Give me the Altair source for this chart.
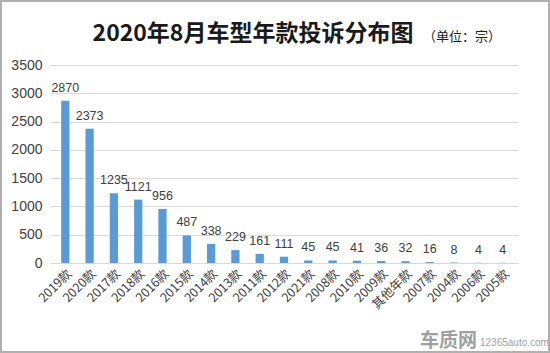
import altair as alt
import pandas as pd

categories = ["2019款", "2020款", "2017款", "2018款", "2016款", "2015款", "2014款", "2013款",
              "2011款", "2012款", "2021款", "2008款", "2010款", "2009款", "其他年款", "2007款",
              "2004款", "2006款", "2005款"]
values = [2870, 2373, 1235, 1121, 956, 487, 338, 229, 161, 111, 45, 45, 41, 36, 32, 16, 8, 4, 4]
y_ticks = [0, 500, 1000, 1500, 2000, 2500, 3000, 3500]

df = pd.DataFrame({"cat": categories, "val": values})
FONT = "Noto Sans CJK SC"

x_enc = alt.X("cat:N", sort=categories, title=None,
              scale=alt.Scale(paddingInner=0.66, paddingOuter=0.46),
              axis=alt.Axis(labelAngle=-45, labelFontSize=12.5, labelColor="#404040",
                            labelFont=FONT, ticks=False, domainColor="#d9d9d9",
                            labelPadding=4, labelAlign="right", labelBaseline="top"))
y_enc = alt.Y("val:Q", title=None,
              scale=alt.Scale(domain=[0, 3500], nice=False),
              axis=alt.Axis(values=y_ticks, format="d", labelOverlap=False, labelFontSize=14,
                            labelColor="#404040", labelFont="Liberation Sans", ticks=False,
                            domain=False, gridColor="#d9d9d9", labelPadding=8))

base = alt.Chart(df)
bars = base.mark_bar(color="#5b9bd5").encode(x=x_enc, y=y_enc)
labels = base.mark_text(dy=-13, fontSize=12.5, font="Liberation Sans", color="#404040").encode(
    x=x_enc, y=y_enc, text="val:Q")

title = alt.Chart(pd.DataFrame({"t": ["2020年8月车型年款投诉分布图"]})).mark_text(
    fontSize=23, fontWeight="bold", font=FONT, color="#1a1a1a", align="center", baseline="middle"
).encode(x=alt.value(203), y=alt.value(-31), text="t:N")
unit = alt.Chart(pd.DataFrame({"t": ["（单位：宗）"]})).mark_text(
    fontSize=13, font=FONT, color="#1a1a1a", align="left", baseline="middle"
).encode(x=alt.value(373), y=alt.value(-28), text="t:N")
wm1 = alt.Chart(pd.DataFrame({"t": ["车质网"]})).mark_text(
    fontSize=19, fontWeight="bold", font=FONT, color="#a0a0a0", align="left", baseline="middle"
).encode(x=alt.value(370), y=alt.value(276), text="t:N")
wm2 = alt.Chart(pd.DataFrame({"t": ["12365auto.com"]})).mark_text(
    fontSize=10, font="Liberation Sans", color="#a0a0a0", align="left", baseline="middle"
).encode(x=alt.value(430), y=alt.value(278), text="t:N")
border = alt.Chart(pd.DataFrame({"a": [0]})).mark_rect(
    fill=None, stroke="#b0b0b0", strokeWidth=2
).encode(x=alt.value(-49), x2=alt.value(499), y=alt.value(-64), y2=alt.value(287))

chart = alt.layer(bars, labels, title, unit, wm1, wm2, border).properties(
    width=468, height=198,
    padding={"left": 50, "top": 65, "right": 32, "bottom": 90},
    autosize=alt.AutoSizeParams(type="none"),
).configure_view(stroke=None)

chart.save("out.html", embed_options={"renderer": "svg", "actions": False})
